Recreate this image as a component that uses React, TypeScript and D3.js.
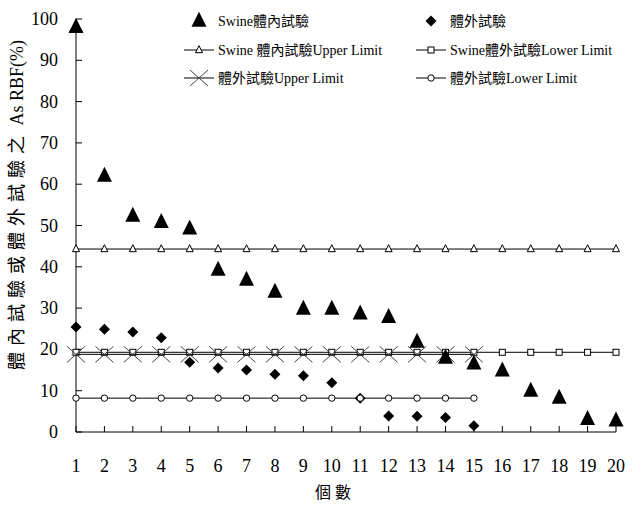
import React from "react";
import * as d3 from "d3";

const xCategories = d3.range(1, 21);
const yTicks = [0, 10, 20, 30, 40, 50, 60, 70, 80, 90, 100];

const swineInVivo = [98, 62, 52.3, 50.8, 49.2, 39.2, 36.8, 33.9, 29.8, 29.8, 28.6, 27.8, 21.8, 17.9, 16.5, 14.8, 9.9, 8.2, 3.1, 2.7];
const inVitro = [25.4, 24.9, 24.2, 22.8, 16.9, 15.5, 15.0, 14.0, 13.6, 11.9, 8.2, 3.9, 3.8, 3.5, 1.5];
const swineUpper = Array(20).fill(44.3);
const swineLower = Array(20).fill(19.3);
const vitroUpper = Array(15).fill(18.8);
const vitroLower = Array(15).fill(8.2);

const legendLabels = [
  "Swine體內試驗",
  "體外試驗",
  "Swine 體內試驗Upper Limit",
  "Swine體外試驗Lower Limit",
  "體外試驗Upper Limit",
  "體外試驗Lower Limit",
];

const FONT = "'Liberation Serif', 'Times New Roman', 'Noto Sans CJK TC', serif";

const x = d3.scaleLinear().domain([1, 20]).range([76, 616]);
const y = d3.scaleLinear().domain([0, 100]).range([432, 19]);

const triPath = (cx: number, cy: number, s: number) =>
  `M${cx},${cy - s * 0.62}L${cx + s / 2},${cy + s * 0.38}L${cx - s / 2},${cy + s * 0.38}Z`;
const diaPath = (cx: number, cy: number, s: number) =>
  `M${cx},${cy - s / 2}L${cx + s / 2},${cy}L${cx},${cy + s / 2}L${cx - s / 2},${cy}Z`;

type M = "tri" | "dia" | "otri" | "osq" | "x" | "ocirc";

function Marker({ type, cx, cy }: { type: M; cx: number; cy: number }) {
  switch (type) {
    case "tri":
      return <path d={triPath(cx, cy, 15)} fill="#000" />;
    case "dia":
      return <path d={diaPath(cx, cy, 11)} fill="#000" />;
    case "otri":
      return <path d={triPath(cx, cy, 7)} fill="#fff" stroke="#000" strokeWidth={1} />;
    case "osq":
      return <rect x={cx - 3} y={cy - 3} width={6} height={6} fill="#fff" stroke="#000" strokeWidth={1} />;
    case "ocirc":
      return <circle cx={cx} cy={cy} r={3.2} fill="#fff" stroke="#000" strokeWidth={1} />;
    case "x":
      return (
        <path
          d={`M${cx - 9},${cy - 8}L${cx + 9},${cy + 8}M${cx - 9},${cy + 8}L${cx + 9},${cy - 8}`}
          stroke="#444"
          strokeWidth={1}
          fill="none"
        />
      );
  }
}

function LineSeries({ data, marker }: { data: number[]; marker: M }) {
  const line = d3
    .line<number>()
    .x((_, i) => x(xCategories[i]))
    .y((d) => y(d));
  return (
    <g>
      <path d={line(data) || ""} fill="none" stroke="#000" strokeWidth={1} />
      {data.map((d, i) => (
        <Marker key={i} type={marker} cx={x(xCategories[i])} cy={y(d)} />
      ))}
    </g>
  );
}

export default function App() {
  const legendRows = [21, 50, 78];
  const col1 = { marker: 199, text: 218 };
  const col2 = { marker: 431, text: 450 };
  const legendItems: { label: string; m: M; col: typeof col1; row: number; line: boolean }[] = [
    { label: legendLabels[0], m: "tri", col: col1, row: legendRows[0], line: false },
    { label: legendLabels[1], m: "dia", col: col2, row: legendRows[0], line: false },
    { label: legendLabels[2], m: "otri", col: col1, row: legendRows[1], line: true },
    { label: legendLabels[3], m: "osq", col: col2, row: legendRows[1], line: true },
    { label: legendLabels[4], m: "x", col: col1, row: legendRows[2], line: true },
    { label: legendLabels[5], m: "ocirc", col: col2, row: legendRows[2], line: true },
  ];

  return (
    <svg
      width={632}
      height={508}
      style={{ position: "absolute", left: 0, top: 0, background: "#fff" }}
      fontFamily={FONT}
    >
      <rect width={632} height={508} fill="#fff" />
      {/* axes */}
      <line x1={76} y1={y(0)} x2={76} y2={y(100)} stroke="#000" strokeWidth={1} />
      <line x1={76} y1={y(0)} x2={616} y2={y(0)} stroke="#000" strokeWidth={1} />
      {yTicks.map((t) => (
        <g key={t}>
          <line x1={76} x2={82} y1={y(t)} y2={y(t)} stroke="#000" />
          <text x={58} y={y(t)} textAnchor="end" dominantBaseline="central" fontSize={18}>
            {t}
          </text>
        </g>
      ))}
      {xCategories.map((c) => (
        <g key={c}>
          <line x1={x(c)} x2={x(c)} y1={y(0)} y2={y(0) - 6} stroke="#000" />
          <text x={x(c)} y={472} textAnchor="middle" fontSize={18}>
            {c}
          </text>
        </g>
      ))}
      {/* series */}
      <LineSeries data={swineUpper} marker="otri" />
      <LineSeries data={swineLower} marker="osq" />
      <LineSeries data={vitroUpper} marker="x" />
      {inVitro.map((d, i) => (
        <Marker key={"d" + i} type="dia" cx={x(xCategories[i])} cy={y(d)} />
      ))}
      <LineSeries data={vitroLower} marker="ocirc" />
      {swineInVivo.map((d, i) => (
        <Marker key={"t" + i} type="tri" cx={x(xCategories[i])} cy={y(d)} />
      ))}
      {/* legend */}
      {legendItems.map((it, i) => (
        <g key={i}>
          {it.line && (
            <line x1={it.col.marker - 15} x2={it.col.marker + 15} y1={it.row} y2={it.row} stroke="#000" />
          )}
          <Marker type={it.m} cx={it.col.marker} cy={it.row} />
          <text x={it.col.text} y={it.row} dominantBaseline="central" fontSize={14}>
            {it.label}
          </text>
        </g>
      ))}
      {/* axis titles */}
      <text x={335} y={492} textAnchor="middle" dominantBaseline="central" fontSize={16} letterSpacing={4}>
        個數
      </text>
      <text
        transform="translate(17,205) rotate(-90)"
        textAnchor="middle"
        dominantBaseline="central"
        fontSize={18}
      >
        <tspan letterSpacing={6}>體內試驗或體外試驗之</tspan>
        <tspan> As RBF(%)</tspan>
      </text>
    </svg>
  );
}
